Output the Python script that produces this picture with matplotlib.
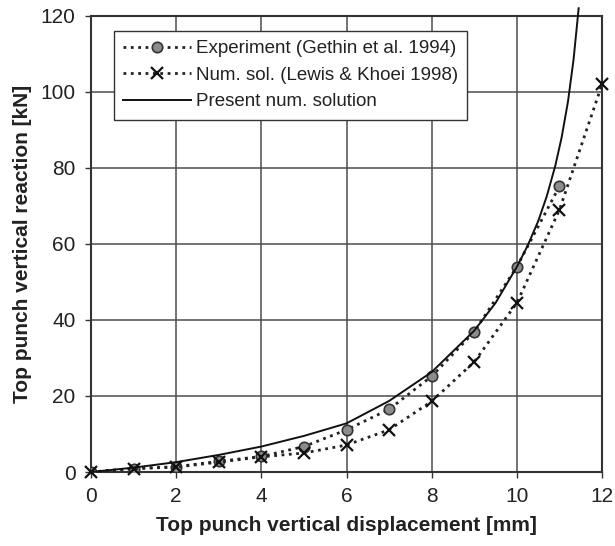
import matplotlib
matplotlib.use("Agg")
import matplotlib.pyplot as plt

# -------- Data --------
exp_x = [0, 1, 2, 3, 4, 5, 6, 7, 8, 9, 10, 11]
exp_y = [0, 0.9, 1.4, 2.8, 4.1, 6.7, 11.1, 16.5, 25.2, 36.9, 54.0, 75.2]

num_x = [0, 1, 2, 3, 4, 5, 6, 7, 8, 9, 10, 11, 12]
num_y = [0, 0.9, 1.3, 2.6, 4.0, 5.0, 7.1, 11.1, 18.6, 29.0, 44.5, 69.0, 102.0]

pres_x = [0, 1, 2, 3, 4, 5, 6, 7, 8, 9, 9.5, 10, 10.25, 10.5, 10.7, 10.9, 11.05, 11.2, 11.33, 11.45]
pres_y = [0, 1.15, 2.6, 4.5, 6.7, 9.5, 12.8, 18.7, 26.3, 37.2, 44.5, 54.0, 59.5, 66.0, 72.5, 80.5, 88.0, 97.5, 108.5, 122.0]

x_ticks = [0, 2, 4, 6, 8, 10, 12]
y_ticks = [0, 20, 40, 60, 80, 100, 120]

plt.rcParams['font.family'] = ['Liberation Sans', 'DejaVu Sans']

fig = plt.figure(figsize=(6.15, 5.46), dpi=100)
ax = fig.add_axes([0.148, 0.1355, 0.831, 0.8355])

ax.plot(exp_x, exp_y, linestyle=':', color='#222222', lw=2.0,
        marker='o', markersize=7.5, markerfacecolor='#8c8c8c',
        markeredgecolor='#333333', markeredgewidth=1.2,
        label='Experiment (Gethin et al. 1994)', zorder=3)
ax.plot(num_x, num_y, linestyle=':', color='#222222', lw=2.0,
        marker='x', markersize=9, markeredgecolor='#111111', markeredgewidth=1.6,
        label='Num. sol. (Lewis & Khoei 1998)', zorder=3, clip_on=False)
ax.plot(pres_x, pres_y, linestyle='-', color='#111111', lw=1.4,
        label='Present num. solution', zorder=4, clip_on=False)

ax.set_xlim(0, 12)
ax.set_ylim(0, 120)
ax.set_xticks(x_ticks)
ax.set_yticks(y_ticks)
ax.grid(True, color='#4d4d4d', lw=1.1)
ax.set_axisbelow(True)
for s in ax.spines.values():
    s.set_color('#333333')
    s.set_linewidth(1.5)
ax.tick_params(direction='out', length=4, width=1.0, colors='#333333',
               labelsize=15, labelcolor='#222222', pad=7)

ax.set_xlabel('Top punch vertical displacement [mm]', fontsize=15,
              fontweight='bold', color='#222222', labelpad=7)
ax.set_ylabel('Top punch vertical reaction [kN]', fontsize=15,
              fontweight='bold', color='#222222', labelpad=6)

leg = ax.legend(loc='upper left', bbox_to_anchor=(0.045, 0.967),
                fontsize=13.5, handlelength=3.6, handletextpad=0.25,
                borderpad=0.5, labelspacing=0.5, fancybox=False,
                framealpha=1.0, edgecolor='#333333', borderaxespad=0)
leg.get_frame().set_linewidth(1.0)
for t in leg.get_texts():
    t.set_color('#222222')

fig.savefig('out.png', dpi=100)
